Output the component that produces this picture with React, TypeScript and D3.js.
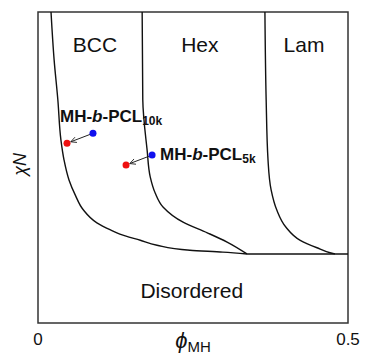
import { useEffect, useRef } from 'react';
import * as d3 from 'd3';

// phase boundaries (phi, chiN)
const bccBoundary: [number, number][] = [
  [0.021, 50], [0.026, 42.3], [0.032, 35.9], [0.037, 29.4], [0.042, 26.2], [0.050, 23.0],
  [0.060, 20.6], [0.073, 18.2], [0.095, 16.1], [0.116, 15.0], [0.132, 14.3], [0.165, 13.3],
  [0.192, 12.5], [0.245, 11.7], [0.298, 11.4], [0.337, 11.1]
];
const hexBoundary: [number, number][] = [
  [0.168, 50], [0.169, 35.9], [0.176, 27.8], [0.181, 23.5], [0.189, 20.9], [0.202, 18.6],
  [0.234, 16.2], [0.273, 14.5], [0.305, 13.0], [0.337, 11.1]
];
const lamBoundary: [number, number][] = [
  [0.366, 50], [0.368, 35.9], [0.371, 26.2], [0.376, 21.4], [0.385, 18.2], [0.400, 15.4],
  [0.423, 13.3], [0.450, 12.1], [0.471, 11.3], [0.479, 11.1]
];
const odtLine: [number, number][] = [[0.337, 11.1], [0.5, 11.1]];

const phaseLabels = [
  { name: 'BCC', x: 0.092, y: 43.5 },
  { name: 'Hex', x: 0.261, y: 43.5 },
  { name: 'Lam', x: 0.429, y: 43.5 },
  { name: 'Disordered', x: 0.248, y: 4.0 }
];

// samples: blue = before, red = after
const samples = [
  { label: 'MH-b-PCL', sub: '10k', from: [0.0887, 30.5], to: [0.0468, 28.9] },
  { label: 'MH-b-PCL', sub: '5k', from: [0.184, 27.0], to: [0.142, 25.4] }
];

const xTicks = [0, 0.5];

export default function App() {
  const svgRef = useRef<SVGSVGElement>(null);

  useEffect(() => {
    const svg = d3.select(svgRef.current);
    svg.selectAll('*').remove();

    const margin = { left: 38, top: 12, width: 310, height: 311 };
    const x = d3.scaleLinear().domain([0, 0.5]).range([margin.left, margin.left + margin.width]);
    const y = d3.scaleLinear().domain([0, 50]).range([margin.top + margin.height, margin.top]);
    const font = 'Liberation Sans, Arial, sans-serif';

    svg.append('defs').append('marker')
      .attr('id', 'arr')
      .attr('viewBox', '0 0 10 10')
      .attr('refX', 9).attr('refY', 5)
      .attr('markerWidth', 7).attr('markerHeight', 7)
      .attr('markerUnits', 'userSpaceOnUse')
      .attr('orient', 'auto')
      .append('path')
      .attr('d', 'M1,1 L9,5 L1,9')
      .attr('fill', 'none')
      .attr('stroke', '#222')
      .attr('stroke-width', 1.2);

    svg.append('rect')
      .attr('x', margin.left).attr('y', margin.top)
      .attr('width', margin.width).attr('height', margin.height)
      .attr('fill', 'none').attr('stroke', '#333').attr('stroke-width', 1.5);

    const line = d3.line<[number, number]>()
      .x(d => x(d[0])).y(d => y(d[1]))
      .curve(d3.curveMonotoneY);

    [bccBoundary, hexBoundary, lamBoundary, odtLine].forEach(pts => {
      svg.append('path')
        .attr('d', line(pts))
        .attr('fill', 'none').attr('stroke', '#111').attr('stroke-width', 1.4);
    });

    svg.selectAll('text.phase')
      .data(phaseLabels).enter().append('text')
      .attr('class', 'phase')
      .attr('x', d => x(d.x)).attr('y', d => y(d.y))
      .attr('text-anchor', 'middle')
      .attr('font-family', font).attr('font-size', 21).attr('fill', '#111')
      .text(d => d.name);

    samples.forEach((s, i) => {
      const fx = x(s.from[0]), fy = y(s.from[1]);
      const tx = x(s.to[0]), ty = y(s.to[1]);
      const len = Math.hypot(tx - fx, ty - fy);
      const ux = (tx - fx) / len, uy = (ty - fy) / len;
      svg.append('line')
        .attr('x1', fx - ux * 3).attr('y1', fy - uy * 3)
        .attr('x2', tx - ux * 4).attr('y2', ty - uy * 4)
        .attr('stroke', '#222').attr('stroke-width', 1)
        .attr('marker-end', 'url(#arr)');
      svg.append('circle').attr('cx', fx).attr('cy', fy).attr('r', 3.5).attr('fill', '#1010ee');
      svg.append('circle').attr('cx', tx).attr('cy', ty).attr('r', 3.5).attr('fill', '#ee1010');

      const t = svg.append('text')
        .attr('font-family', font).attr('font-weight', 'bold').attr('font-size', 17).attr('fill', '#111');
      if (i === 0) t.attr('x', 60).attr('y', 122);
      else t.attr('x', fx + 8).attr('y', fy + 5);
      const parts = s.label.split('-');
      t.append('tspan').text(parts[0] + '-');
      t.append('tspan').attr('font-style', 'italic').text(parts[1]);
      t.append('tspan').text('-' + parts[2]);
      t.append('tspan').attr('font-size', 12).attr('dy', 3).text(s.sub);
    });

    svg.selectAll('text.tick')
      .data(xTicks).enter().append('text')
      .attr('class', 'tick')
      .attr('x', d => x(d)).attr('y', 345)
      .attr('text-anchor', 'middle')
      .attr('font-family', font).attr('font-size', 17).attr('fill', '#111')
      .text(d => String(d));

    const xl = svg.append('text')
      .attr('x', x(0.25)).attr('y', 348)
      .attr('text-anchor', 'middle')
      .attr('font-family', font).attr('fill', '#111');
    xl.append('tspan').attr('font-size', 22).attr('font-style', 'italic').text('ϕ');
    xl.append('tspan').attr('font-size', 15).attr('dy', 4).text('MH');

    svg.append('text')
      .attr('transform', `translate(26,${y(25.5)}) rotate(-90)`)
      .attr('text-anchor', 'middle')
      .attr('font-family', font).attr('font-size', 18).attr('font-style', 'italic').attr('fill', '#111')
      .text('χN');
  }, []);

  return (
    <svg
      ref={svgRef}
      width={368}
      height={355}
      style={{ position: 'absolute', left: 0, top: 0, display: 'block', background: '#fff' }}
    />
  );
}
